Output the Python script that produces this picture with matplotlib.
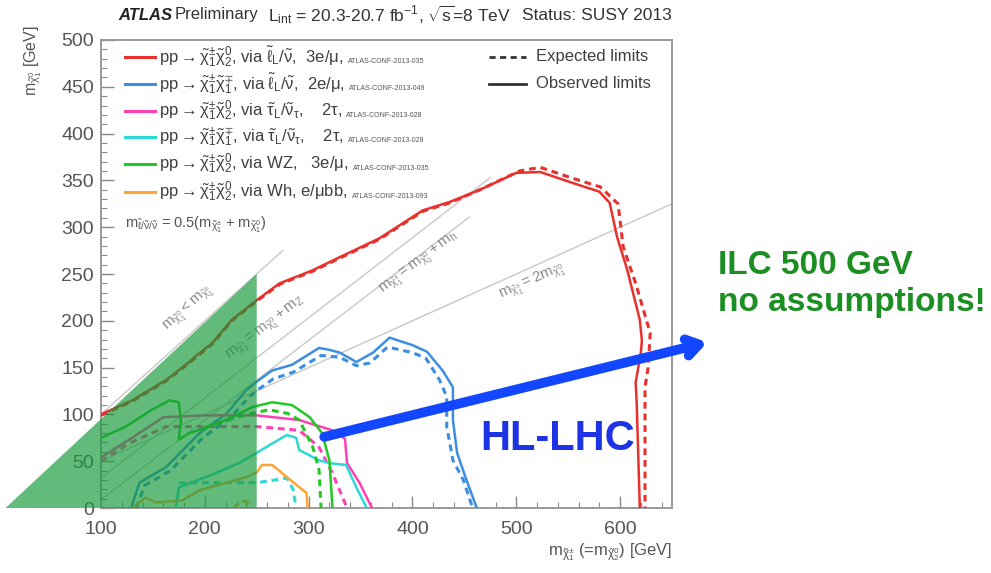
import numpy as np
import matplotlib
matplotlib.use("Agg")
import matplotlib.pyplot as plt
from matplotlib.patches import Polygon
from matplotlib.ticker import MultipleLocator

plt.rcParams['font.family'] = ['Liberation Sans', 'DejaVu Sans']
plt.rcParams['mathtext.fontset'] = 'custom'
plt.rcParams['mathtext.rm'] = 'Liberation Sans'
plt.rcParams['mathtext.it'] = 'Liberation Sans:italic'
plt.rcParams['mathtext.bf'] = 'Liberation Sans:bold'
plt.rcParams['mathtext.default'] = 'regular'

# --- limit contours (x = m_chargino, y = m_neutralino) ---
red_obs_x = [100, 130, 163, 185, 192, 207, 226, 250, 272, 304, 330, 368, 410, 436, 465, 500, 523, 555, 580, 590, 597, 607, 619, 621, 620, 615, 616, 619]
red_obs_y = [100, 115, 137, 156, 163, 176, 201, 222, 240, 254, 268, 288, 318, 327, 340, 358, 359, 347, 338, 326, 290, 254, 201, 179, 166, 134, 112, 0]
red_exp_x = [100, 130, 163, 185, 207, 226, 250, 272, 304, 330, 368, 410, 436, 465, 503, 523, 555, 581, 598, 603, 615, 629, 627, 624, 624]
red_exp_y = [99, 114, 136, 155, 175, 200, 221, 239, 253, 267, 287, 317, 326, 340, 360, 364, 352, 343, 325, 279, 240, 187, 150, 129, 0]

blue_obs_x = [129, 137, 163, 195, 221, 240, 250, 265, 284, 310, 320, 330, 346, 362, 378, 400, 414, 429, 439, 439, 443, 452, 462]
blue_obs_y = [0, 27, 44, 80, 101, 126, 135, 147, 153, 171, 169, 166, 156, 166, 182, 174, 167, 147, 129, 94, 59, 30, 0]
blue_exp_x = [134, 142, 167, 198, 224, 243, 252, 266, 285, 312, 330, 346, 359, 376, 400, 413, 426, 433, 433, 439, 449, 458]
blue_exp_y = [0, 24, 40, 75, 96, 119, 127, 138, 145, 163, 161, 152, 155, 172, 166, 160, 137, 119, 87, 51, 30, 0]

green_obs_x = [100, 124, 149, 166, 175, 177, 175, 185, 204, 226, 246, 265, 284, 301, 313, 320, 323]
green_obs_y = [75, 87, 105, 115, 113, 94, 73, 80, 87, 97, 108, 113, 110, 97, 80, 51, 0]
green_exp_x = [200, 240, 262, 280, 291, 304, 310, 312]
green_exp_y = [86, 100, 105, 101, 94, 65, 41, 0]

pink_obs_x = [100, 130, 160, 200, 250, 291, 323, 335, 337, 349, 361]
pink_obs_y = [54, 75, 97, 99, 99, 94, 83, 74, 48, 27, 0]
pink_exp_x = [100, 127, 163, 250, 291, 310, 323, 337]
pink_exp_y = [50, 69, 87, 87, 83, 65, 37, 0]

cyan_obs_x = [172, 175, 201, 233, 250, 265, 279, 288, 291, 310, 320, 336, 346, 356]
cyan_obs_y = [0, 22, 33, 48, 59, 69, 78, 75, 62, 51, 48, 46, 22, 0]
cyan_exp_x = [175, 250, 279, 285, 288]
cyan_exp_y = [27, 27, 32, 20, 0]

orange_obs_x = [130, 143, 153, 178, 195, 221, 240, 250, 255, 265, 279, 288, 298, 299]
orange_obs_y = [0, 11, 6, 8, 19, 27, 33, 38, 46, 46, 33, 25, 16, 0]
orange_exp_x = [228, 235, 242, 245]
orange_exp_y = [0, 8, 6, 0]

# kinematic guide lines
diag_x = [100, 275]
diag_y = [100, 275]
mz_x = [100, 475]
mz_y = [32, 353]
mh_x = [100, 455]
mh_y = [9, 311]
half_x = [100, 650]
half_y = [50, 325]

# excluded triangle and arrow
tri_x = [8, 250, 250]
tri_y = [0, 250, 0]
arrow_start = (315, 76)
arrow_end = (684, 177)

c_red = '#e8302c'
c_blue = '#3d8ee0'
c_pink = '#ff3fb4'
c_cyan = '#2fd8d8'
c_green = '#22c922'
c_orange = '#ffa533'
dash = (0, (2.2, 1.6))

fig = plt.figure(figsize=(9.91, 5.73), dpi=100)
ax = fig.add_axes([0.1019, 0.1134, 0.5762, 0.8168])

# guide lines
for xs, ys in [(diag_x, diag_y), (mz_x, mz_y), (mh_x, mh_y), (half_x, half_y)]:
    ax.plot(xs, ys, color='#c8c8c8', lw=1.0, zorder=1)

series = [
    (red_obs_x, red_obs_y, red_exp_x, red_exp_y, c_red),
    (blue_obs_x, blue_obs_y, blue_exp_x, blue_exp_y, c_blue),
    (pink_obs_x, pink_obs_y, pink_exp_x, pink_exp_y, c_pink),
    (cyan_obs_x, cyan_obs_y, cyan_exp_x, cyan_exp_y, c_cyan),
    (green_obs_x, green_obs_y, green_exp_x, green_exp_y, c_green),
    (orange_obs_x, orange_obs_y, orange_exp_x, orange_exp_y, c_orange),
]
for ox, oy, ex, ey, col in series:
    ax.plot(ex, ey, color=col, lw=2.2, ls=dash, zorder=3)
    ax.plot(ox, oy, color=col, lw=1.8, zorder=3)

# guide line labels
gcol = '#8c8c8c'
ax.text(185, 213, r'$m_{\tilde{\chi}^0_1} < m_{\tilde{\chi}^{\pm}_1}$', color=gcol, fontsize=11,
        rotation=42, ha='center', va='center', rotation_mode='anchor')
ax.text(259, 192, r'$m_{\tilde{\chi}^{\pm}_1} = m_{\tilde{\chi}^0_1} + m_Z$', color=gcol, fontsize=11,
        rotation=38, ha='center', va='center', rotation_mode='anchor')
ax.text(407, 261, r'$m_{\tilde{\chi}^{\pm}_1} = m_{\tilde{\chi}^0_1} + m_h$', color=gcol, fontsize=11,
        rotation=37, ha='center', va='center', rotation_mode='anchor')
ax.text(515, 242, r'$m_{\tilde{\chi}^{\pm}_1} = 2m_{\tilde{\chi}^0_1}$', color=gcol, fontsize=11,
        rotation=24, ha='center', va='center', rotation_mode='anchor')

# legend (drawn by hand, ROOT style)
leg_rows = [0.964, 0.906, 0.848, 0.793, 0.735, 0.675]
leg_cols = [c_red, c_blue, c_pink, c_cyan, c_green, c_orange]
leg_txt = [
    r'pp$\rightarrow\tilde{\chi}^{\pm}_1\tilde{\chi}^0_2$, via $\tilde{\ell}_L/\tilde{\nu}$,  3e/$\mu$,',
    r'pp$\rightarrow\tilde{\chi}^{\pm}_1\tilde{\chi}^{\mp}_1$, via $\tilde{\ell}_L/\tilde{\nu}$,  2e/$\mu$,',
    r'pp$\rightarrow\tilde{\chi}^{\pm}_1\tilde{\chi}^0_2$, via $\tilde{\tau}_L/\tilde{\nu}_{\tau}$,    2$\tau$,',
    r'pp$\rightarrow\tilde{\chi}^{\pm}_1\tilde{\chi}^{\mp}_1$, via $\tilde{\tau}_L/\tilde{\nu}_{\tau}$,    2$\tau$,',
    r'pp$\rightarrow\tilde{\chi}^{\pm}_1\tilde{\chi}^0_2$, via WZ,   3e/$\mu$,',
    r'pp$\rightarrow\tilde{\chi}^{\pm}_1\tilde{\chi}^0_2$, via Wh, e/$\mu$bb,',
]
leg_conf = ['ATLAS-CONF-2013-035', 'ATLAS-CONF-2013-049', 'ATLAS-CONF-2013-028',
            'ATLAS-CONF-2013-028', 'ATLAS-CONF-2013-035', 'ATLAS-CONF-2013-093']
for yy, col, txt, conf in zip(leg_rows, leg_cols, leg_txt, leg_conf):
    ax.plot([0.042, 0.095], [yy, yy], color=col, lw=2.2, transform=ax.transAxes, zorder=4)
    t = ax.text(0.1016, yy, txt, transform=ax.transAxes, fontsize=12, color='#404040',
                va='center', ha='left')
    ax.annotate(conf, xy=(1, 0), xycoords=t, xytext=(3, 3), textcoords='offset points',
                fontsize=5, color='#555555', va='bottom', ha='left')

ax.plot([0.68, 0.744], [0.964, 0.964], color='#333333', lw=2, ls=dash, transform=ax.transAxes)
ax.plot([0.68, 0.744], [0.906, 0.906], color='#333333', lw=2, transform=ax.transAxes)
ax.text(0.762, 0.964, 'Expected limits', transform=ax.transAxes, fontsize=12, color='#404040', va='center')
ax.text(0.762, 0.906, 'Observed limits', transform=ax.transAxes, fontsize=12, color='#404040', va='center')
ax.text(0.042, 0.605, r'$m_{\tilde{\ell}/\tilde{\nu}/\tilde{\nu}}$ = 0.5($m_{\tilde{\chi}^{\pm}_1}$ + $m_{\tilde{\chi}^0_1}$)',
        transform=ax.transAxes, fontsize=10.5, color='#555555', va='center')

# excluded region overlay
ax.add_patch(Polygon(np.column_stack([tri_x, tri_y]), closed=True, facecolor='#179a3c',
                     edgecolor='none', alpha=0.68, zorder=6, clip_on=False))

# HL-LHC arrow
ax.annotate('', xy=arrow_end, xytext=arrow_start, xycoords='data', annotation_clip=False,
            arrowprops=dict(arrowstyle='->,head_length=0.9,head_width=0.6', color='#1346ff',
                            lw=7, shrinkA=0, shrinkB=0), zorder=7)
ax.text(540, 74, 'HL-LHC', color='#1e32e6', fontsize=30, fontweight='bold', ha='center', va='center', zorder=7)

ax.set_xlim(100, 650)
ax.set_ylim(0, 500)
ax.xaxis.set_major_locator(MultipleLocator(100))
ax.xaxis.set_minor_locator(MultipleLocator(20))
ax.yaxis.set_major_locator(MultipleLocator(50))
ax.yaxis.set_minor_locator(MultipleLocator(10))
ax.tick_params(which='both', direction='in', top=False, right=False, colors='#888888',
               labelcolor='#555555', labelsize=14)
ax.tick_params(which='major', length=9, width=1)
ax.tick_params(which='minor', length=4.5, width=0.8)
ax.tick_params(axis='y', pad=5)
ax.tick_params(axis='x', pad=9)
for s in ax.spines.values():
    s.set_color('#9a9a9a')
    s.set_linewidth(1.4)

# axis titles
fig.text(33 / 991, 1 - 25 / 573, r'm$_{\tilde{\chi}^0_1}$ [GeV]', rotation=90, ha='center', va='top',
         fontsize=11.5, color='#555555')
fig.text(672 / 991, 1 - 552 / 573, r'm$_{\tilde{\chi}^{\pm}_1}$ (=m$_{\tilde{\chi}^0_2}$) [GeV]', ha='right',
         va='center', fontsize=12, color='#555555')

# header
fig.text(118 / 991, 1 - 15 / 573, 'ATLAS', fontsize=12, fontweight='bold', style='italic', color='#222222', va='center')
fig.text(175 / 991, 1 - 15 / 573, 'Preliminary', fontsize=12, color='#333333', va='center')
fig.text(268 / 991, 1 - 15 / 573, r'L$_{int}$ = 20.3-20.7 fb$^{-1}$, $\sqrt{s}$=8 TeV', fontsize=12.5,
         color='#333333', va='center')
fig.text(522 / 991, 1 - 15 / 573, 'Status: SUSY 2013', fontsize=12.5, color='#333333', va='center')

# ILC annotation
fig.text(718 / 991, 1 - 274 / 573, 'ILC 500 GeV', fontsize=24, fontweight='bold', color='#1b8f22', va='baseline')
fig.text(718 / 991, 1 - 311 / 573, 'no assumptions!', fontsize=24, fontweight='bold', color='#1b8f22', va='baseline')

fig.savefig('out.png', dpi=100)
